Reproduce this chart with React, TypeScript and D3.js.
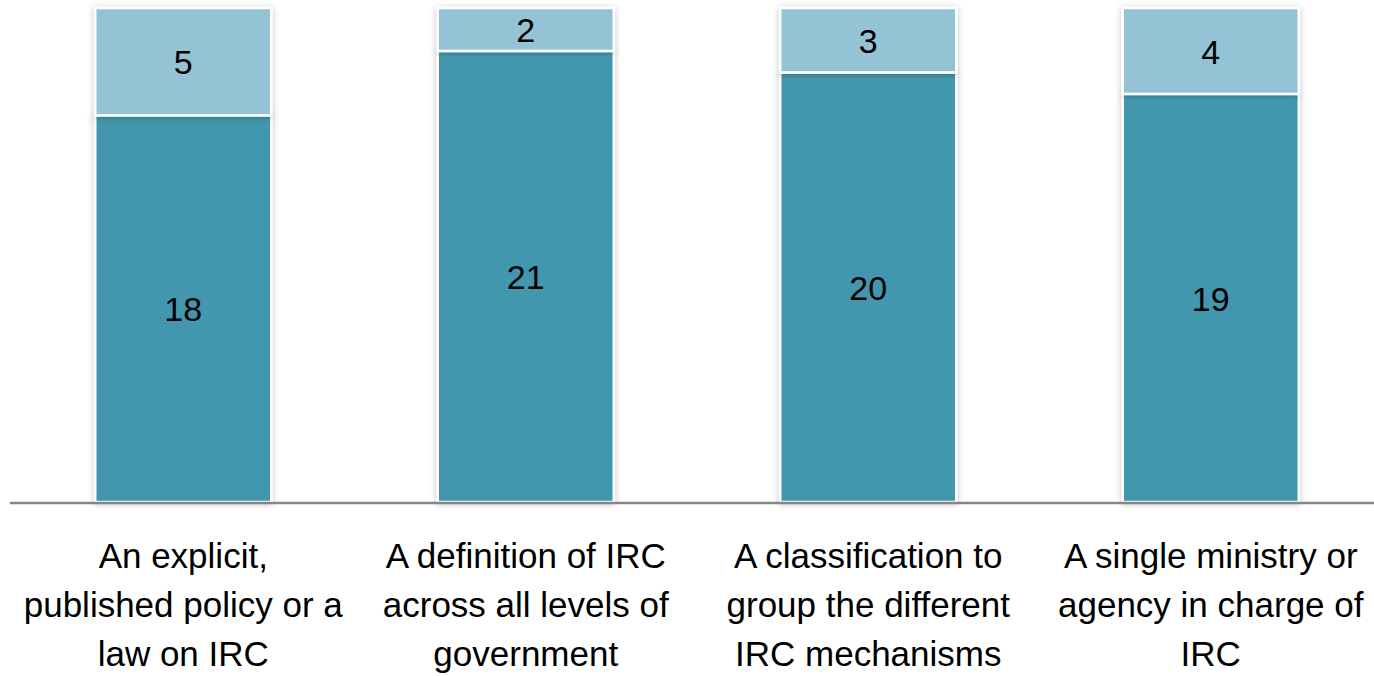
import React from "react";
import * as d3 from "d3";

const categories = [
  ["An explicit,", "published policy or a", "law on IRC"],
  ["A definition of IRC", "across all levels of", "government"],
  ["A classification to", "group the different", "IRC mechanisms"],
  ["A single ministry or", "agency in charge of", "IRC"],
];
const seriesYes = [18, 21, 20, 19];
const seriesPartly = [5, 2, 3, 4];

const W = 1374;
const H = 676;
const COLORS = ["#4397AE", "#93C3D5"];

export default function App() {
  const idx = categories.map((_, i) => String(i));
  const x = d3.scaleBand().domain(idx).range([12, 1382]).paddingInner(0.486).paddingOuter(0.243);
  const y = d3.scaleLinear().domain([0, 23]).range([502, 8]);
  const stackData = categories.map((_, i) => ({ key: String(i), a: seriesYes[i], b: seriesPartly[i] }));
  const stack = d3.stack<any>().keys(["a", "b"])(stackData);
  const font = "'Liberation Sans', Arial, sans-serif";
  return (
    <svg width={W} height={H} style={{ position: "absolute", left: 0, top: 0 }} fontFamily={font}>
      <defs>
        <filter id="sh" x="-10%" y="-10%" width="120%" height="120%">
          <feDropShadow dx="0" dy="1" stdDeviation="3" floodColor="#000" floodOpacity="0.25" />
        </filter>
      </defs>
      {stack.map((layer, li) =>
        layer.map((d, i) => {
          const x0 = x(String(i))!;
          const y0 = y(d[1]);
          const y1 = y(d[0]);
          return (
            <g key={`${li}-${i}`}>
              <rect x={x0} y={y0} width={x.bandwidth()} height={y1 - y0} fill={COLORS[li]}
                stroke="#fff" strokeWidth={2.5} filter="url(#sh)" />
              <text x={x0 + x.bandwidth() / 2} y={(y0 + y1) / 2} dy="0.37em" textAnchor="middle"
                fontSize={34} fill="#000">{li === 0 ? seriesYes[i] : seriesPartly[i]}</text>
            </g>
          );
        })
      )}
      <line x1={10} x2={W} y1={y(0) + 1} y2={y(0) + 1} stroke="#868686" strokeWidth={2.5} />
      {categories.map((lines, i) =>
        lines.map((t, j) => (
          <text key={`${i}-${j}`} x={x(String(i))! + x.bandwidth() / 2} y={568 + j * 49}
            textAnchor="middle" fontSize={35} fill="#000">{t}</text>
        ))
      )}
    </svg>
  );
}
